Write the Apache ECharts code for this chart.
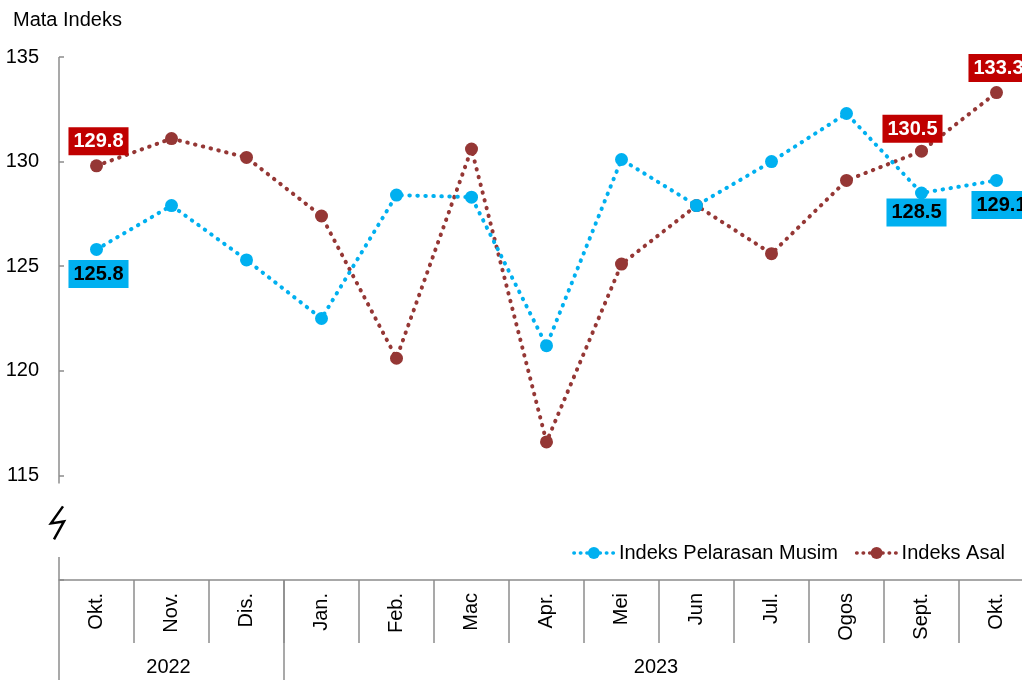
<!DOCTYPE html>
<html>
<head>
<meta charset="utf-8">
<script src="https://cdn.jsdelivr.net/npm/echarts@6/dist/echarts.min.js"></script>
<style>
  html, body { margin: 0; padding: 0; background: #fff; }
  #main { width: 1022px; height: 680px; }
</style>
</head>
<body>
<div id="main"></div>
<script>
var myChart = echarts.init(document.getElementById('main'))

// data
var months = ['Okt.', 'Nov.', 'Dis.', 'Jan.', 'Feb.', 'Mac', 'Apr.', 'Mei', 'Jun', 'Jul.', 'Ogos', 'Sept.', 'Okt.']
var years = ['2022', '2023']
var yearSpans = [3, 10]
var seasonal = [125.8, 127.9, 125.3, 122.5, 128.4, 128.3, 121.2, 130.1, 127.9, 130.0, 132.3, 128.5, 129.1]
var original = [129.8, 131.1, 130.2, 127.4, 120.6, 130.6, 116.6, 125.1, 127.9, 125.6, 129.1, 130.5, 133.3]
var labelled = [0, 11, 12]

var font = 'Liberation Sans, Arial, sans-serif'
var blue = '#00b0f0'
var red = '#953735'
var axisGray = '#8c8c8c'

// small nudges so the boxes sit like the reference
var blueOffsets = { 0: [2, 0], 11: [-5, -5], 12: [5, 0] }
var redOffsets = { 0: [2, 0], 11: [-9, 2], 12: [2, 0] }

function buildData(values, offsets, pos, bg, fg) {
  return values.map(function (v, i) {
    if (labelled.indexOf(i) < 0) return v
    return {
      value: v,
      label: {
        show: true,
        position: pos,
        distance: 4,
        offset: offsets[i] || [0, 0],
        formatter: function (p) { return p.value.toFixed(1) },
        backgroundColor: bg,
        color: fg,
        fontFamily: font,
        fontSize: 20,
        fontWeight: 'bold',
        lineHeight: 23,
        padding: [3, 5, 2, 5],
      },
    }
  })
}

var option = {
  animation: false,
  textStyle: { fontFamily: font },
  title: {
    text: 'Mata Indeks',
    left: 8,
    top: 5,
    textStyle: { fontFamily: font, fontSize: 20, fontWeight: 'normal', color: '#000' },
  },
  legend: {
    right: 12,
    top: 538,
    itemWidth: 40,
    itemHeight: 15,
    itemGap: 17,
    lineStyle: { width: 3.5, type: [0.5, 6], cap: 'round' },
    textStyle: { fontFamily: font, fontSize: 20, color: '#000' },
    data: ['Indeks Pelarasan Musim', 'Indeks Asal'],
  },
  grid: { left: 59, top: 57, width: 975, bottom: 100, outerBoundsMode: 'none', containLabel: false },
  xAxis: {
    type: 'category',
    data: months,
    axisLine: { lineStyle: { color: axisGray, width: 1.5 } },
    axisTick: { show: false },
    axisLabel: { rotate: 90, margin: 13, interval: 0, fontSize: 20, color: '#000', fontFamily: font },
  },
  yAxis: {
    type: 'value',
    min: 110,
    max: 135,
    interval: 5,
    axisLine: { show: false },
    axisTick: { show: true, inside: true, length: 5, lineStyle: { color: axisGray, width: 1.5 } },
    axisLabel: {
      margin: 20,
      fontSize: 20,
      color: '#000',
      fontFamily: font,
      formatter: function (v) { return v === 110 ? '' : v },
    },
    splitLine: { show: false },
  },
  series: [
    {
      name: 'Indeks Pelarasan Musim',
      type: 'line',
      data: buildData(seasonal, blueOffsets, 'bottom', blue, '#000'),
      symbol: 'circle',
      symbolSize: 13,
      itemStyle: { color: blue },
      lineStyle: { color: blue, width: 4, type: [0.5, 7.5], cap: 'round' },
      z: 3,
    },
    {
      name: 'Indeks Asal',
      type: 'line',
      data: buildData(original, redOffsets, 'top', '#c00000', '#fff'),
      symbol: 'circle',
      symbolSize: 13,
      itemStyle: { color: red },
      lineStyle: { color: red, width: 4, type: [0.5, 7.5], cap: 'round' },
      z: 2,
    },
  ],
}

myChart.setOption(option)

// axis line with the break mark, month separators, year labels and year separators
var x0 = myChart.convertToPixel({ xAxisIndex: 0 }, 0)
var x1 = myChart.convertToPixel({ xAxisIndex: 0 }, 1)
var band = x1 - x0
var axisX = x0 - band / 2
var yTop = myChart.convertToPixel({ yAxisIndex: 0 }, 135)
var y115 = myChart.convertToPixel({ yAxisIndex: 0 }, 115)
var yBase = myChart.convertToPixel({ yAxisIndex: 0 }, 110)
var bottomEdge = 680
var gray = { stroke: axisGray, lineWidth: 1.5 }

var graphics = [
  { type: 'line', shape: { x1: axisX, y1: yTop, x2: axisX, y2: y115 + 8 }, style: gray },
  { type: 'line', shape: { x1: axisX, y1: yBase - 23, x2: axisX, y2: bottomEdge }, style: gray },
  {
    type: 'polyline',
    shape: {
      points: [
        [axisX + 4, y115 + 31],
        [axisX - 8, y115 + 48],
        [axisX + 5, y115 + 46],
        [axisX - 5, y115 + 64],
      ],
    },
    style: { stroke: '#000', lineWidth: 2.5, fill: null, lineJoin: 'miter' },
  },
]

for (var i = 1; i < months.length; i++) {
  var bx = myChart.convertToPixel({ xAxisIndex: 0 }, i) - band / 2
  graphics.push({ type: 'line', shape: { x1: bx, y1: yBase, x2: bx, y2: yBase + 63 }, style: gray })
}

var start = 0
years.forEach(function (yr, k) {
  var span = yearSpans[k]
  var left = myChart.convertToPixel({ xAxisIndex: 0 }, start) - band / 2
  var right = left + span * band
  if (k > 0) {
    graphics.push({ type: 'line', shape: { x1: left, y1: yBase, x2: left, y2: bottomEdge }, style: gray })
  }
  graphics.push({
    type: 'text',
    x: (left + right) / 2 - 3,
    y: 667,
    style: { text: yr, fontSize: 20, fontFamily: font, fill: '#000', align: 'center', verticalAlign: 'middle' },
  })
  start += span
})

myChart.setOption({ graphic: graphics })
</script>
</body>
</html>
